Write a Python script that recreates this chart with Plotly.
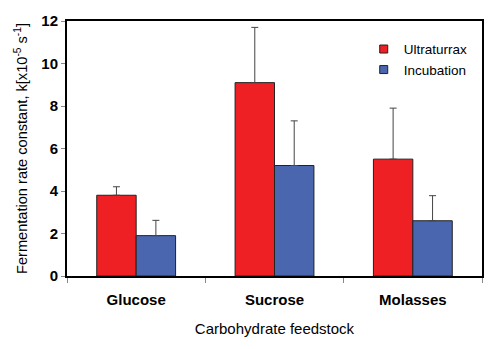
import plotly.graph_objects as go

categories = ["Glucose", "Sucrose", "Molasses"]
ultraturrax = [3.8, 9.1, 5.5]
ultraturrax_err = [0.4, 2.6, 2.4]
incubation = [1.9, 5.2, 2.6]
incubation_err = [0.72, 2.1, 1.18]
series_names = ["Ultraturrax", "Incubation"]
series_colors = ["#EE2024", "#4A66AE"]

FONT = "Liberation Sans, Arial, sans-serif"

fig = go.Figure()
for name, vals, errs, col in zip(series_names, [ultraturrax, incubation],
                                  [ultraturrax_err, incubation_err], series_colors):
    fig.add_trace(go.Bar(
        x=categories, y=vals, name=name, showlegend=False,
        marker=dict(color=col, line=dict(color="#222222", width=1)),
        error_y=dict(type="data", array=errs, symmetric=False,
                     arrayminus=[0] * len(errs), color="#444444", thickness=1, width=3.5),
    ))
# legend entries (small square swatches)
for name, col in zip(series_names, series_colors):
    fig.add_trace(go.Scatter(
        x=[None], y=[None], mode="markers", name=name,
        marker=dict(symbol="square", size=8, color=col, line=dict(color="#222222", width=1)),
    ))

fig.update_layout(
    width=500, height=349,
    margin=dict(l=59, r=26, t=13, b=81),
    paper_bgcolor="white", plot_bgcolor="white",
    barmode="group", bargap=0.43, bargroupgap=0,
    font=dict(family=FONT, color="black", size=14),
    showlegend=True,
    legend=dict(x=0.715, y=0.95, xanchor="left", yanchor="top",
                bgcolor="rgba(0,0,0,0)", font=dict(size=13.5),
                itemwidth=30, tracegroupgap=0),
    xaxis=dict(
        automargin=False,
        showline=True, linecolor="black", linewidth=2, mirror=True,
        ticks="outside", tickson="boundaries", ticklen=5, tickcolor="#888888",
        ticklabelstandoff=9,
        tickfont=dict(family=FONT, size=15, color="black", weight="bold"),
        title=dict(text="Carbohydrate feedstock", font=dict(size=15), standoff=16),
    ),
    yaxis=dict(
        automargin=False,
        range=[0, 12], dtick=2,
        showline=True, linecolor="black", linewidth=2, mirror=True,
        showgrid=False, zeroline=False,
        ticks="outside", ticklen=4, tickcolor="#888888",
        tickfont=dict(family=FONT, size=15, color="black", weight="bold"),
        title=dict(text="Fermentation rate constant, k[x10<sup>-5</sup> s<sup>-1</sup>]",
                   font=dict(size=14.6), standoff=10),
    ),
)

fig.write_html("out.html")
